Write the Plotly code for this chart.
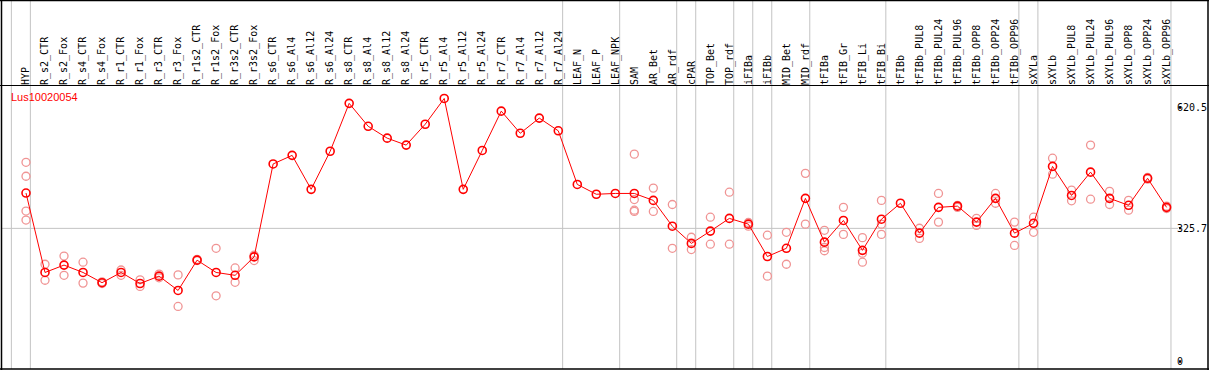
import plotly.graph_objects as go

categories = ["HYP", "R_s2_CTR", "R_s2_Fox", "R_s4_CTR", "R_s4_Fox", "R_r1_CTR", "R_r1_Fox",
              "R_r3_CTR", "R_r3_Fox", "R_r1s2_CTR", "R_r1s2_Fox", "R_r3s2_CTR", "R_r3s2_Fox",
              "R_s6_CTR", "R_s6_Al4", "R_s6_Al12", "R_s6_Al24", "R_s8_CTR", "R_s8_Al4",
              "R_s8_Al12", "R_s8_Al24", "R_r5_CTR", "R_r5_Al4", "R_r5_Al12", "R_r5_Al24",
              "R_r7_CTR", "R_r7_Al4", "R_r7_Al12", "R_r7_Al24", "LEAF_N", "LEAF_P", "LEAF_NPK",
              "SAM", "AR_Bet", "AR_rdf", "cPAR", "TOP_Bet", "TOP_rdf", "iFIBa", "iFIBb",
              "MID_Bet", "MID_rdf", "tFIBa", "tFIB_Gr", "tFIB_Li", "tFIB_Bi", "tFIBb",
              "tFIBb_PUL8", "tFIBb_PUL24", "tFIBb_PUL96", "tFIBb_OPP8", "tFIBb_OPP24",
              "tFIBb_OPP96", "sXYLa", "sXYLb", "sXYLb_PUL8", "sXYLb_PUL24", "sXYLb_PUL96",
              "sXYLb_OPP8", "sXYLb_OPP24", "sXYLb_OPP96"]

means = [412, 218, 236, 218, 193, 218, 191, 209, 174, 248, 218, 211, 256,
         483, 504, 421, 514, 631, 575, 546, 529, 580, 643, 421, 516, 612, 558, 595, 564,
         433, 409, 411, 411, 394, 331, 289, 319, 350, 336, 257, 277, 399, 292, 345, 272,
         348, 387, 314, 377, 380, 341, 399, 314, 338, 477, 406, 463, 399, 382, 448, 377]

replicates = [
    [487, 453, 368, 346], [238, 199], [258, 211], [243, 192], [195, 191], [224, 211],
    [200, 184], [214, 205], [212, 135], [250, 247], [277, 161], [229, 194], [260, 247],
    [], [], [], [], [], [], [], [], [], [], [], [], [], [], [], [],
    [], [], [],
    [507, 396, 370, 367], [424, 367], [384, 277], [304, 274], [353, 287], [414, 287],
    [340, 331], [309, 209], [316, 238], [460, 336], [321, 279, 271], [377, 311],
    [303, 265, 243], [394, 336, 311], [], [326, 301], [411, 341], [382, 377], [350, 333],
    [411, 387], [341, 284], [353, 316], [497, 458], [419, 393], [529, 397], [416, 384],
    [394, 370], [450, 446], [380, 374]]

group_ends = ["HYP", "R_r7_Al24", "LEAF_NPK", "AR_rdf", "cPAR", "TOP_rdf", "iFIBa", "iFIBb",
              "MID_rdf", "tFIB_Bi", "tFIBb_OPP96", "sXYLa", "sXYLb_OPP96"]

title = "Lus10020054"
ytick_vals = [0, 325.7, 620.5]
ytick_text = ["0", "325.7", "620.5"]
ref_line = 325.7

rep_x, rep_y = [], []
for i, reps in enumerate(replicates):
    for v in reps:
        rep_x.append(i)
        rep_y.append(v)

idx = list(range(len(categories)))

fig = go.Figure()
fig.add_trace(go.Scatter(x=rep_x, y=rep_y, mode="markers",
                         marker=dict(symbol="circle-open", size=8, color="#f09494",
                                     line=dict(width=1.3, color="#f09494")),
                         hoverinfo="skip", showlegend=False))
fig.add_trace(go.Scatter(x=idx, y=means, mode="lines+markers",
                         line=dict(color="#ff0000", width=1),
                         marker=dict(symbol="circle-open", size=8, color="#ff0000",
                                     line=dict(width=1.6, color="#ff0000")),
                         showlegend=False))

W, H = 1209, 370
ml, mr, mt, mb = 2, 33, 86, 1
pw = W - ml - mr
ph = H - mt - mb
step = 19.01
x0 = -(26 - ml) / step
x1 = x0 + pw / step

def px_x(p):
    return (p - ml) / pw

def px_y(p):
    return (H - mb - p) / ph

shapes = []
grey = "#c3c3c3"
sep_pos = [-1] + [categories.index(c) for c in group_ends]
for s in sep_pos:
    shapes.append(dict(type="line", xref="x", yref="paper", x0=s + 0.23, x1=s + 0.23,
                       y0=px_y(369), y1=px_y(0), line=dict(color=grey, width=1), layer="below"))
shapes.append(dict(type="line", xref="paper", yref="y", x0=px_x(1), x1=px_x(1178), y0=ref_line, y1=ref_line,
                   line=dict(color=grey, width=1), layer="below"))
# small tick marks at the right, next to the value labels
for v in ytick_vals:
    shapes.append(dict(type="line", xref="paper", yref="y", x0=px_x(1179), x1=px_x(1181), y0=v, y1=v,
                       line=dict(color="black", width=2)))
blk = dict(color="black", width=1.5)
shapes += [
    dict(type="line", xref="paper", yref="paper", x0=px_x(0), x1=px_x(W), y0=px_y(0.5), y1=px_y(0.5), line=blk),
    dict(type="line", xref="paper", yref="paper", x0=px_x(0), x1=px_x(W), y0=px_y(85.5), y1=px_y(85.5), line=dict(color="black", width=1)),
    dict(type="line", xref="paper", yref="paper", x0=px_x(0), x1=px_x(W), y0=px_y(369), y1=px_y(369), line=blk),
    dict(type="line", xref="paper", yref="paper", x0=px_x(1.5), x1=px_x(1.5), y0=px_y(0), y1=px_y(370), line=blk),
    dict(type="line", xref="paper", yref="paper", x0=px_x(1208), x1=px_x(1208), y0=px_y(0), y1=px_y(370), line=blk),
]

fig.update_layout(
    width=W, height=H, margin=dict(l=ml, r=mr, t=mt, b=mb, pad=0),
    paper_bgcolor="white", plot_bgcolor="white",
    shapes=shapes,
    xaxis=dict(range=[x0, x1], side="top", tickmode="array", tickvals=idx, ticktext=categories,
               tickangle=-90, tickfont=dict(family="DejaVu Sans Mono", size=10, color="black"),
               showgrid=False, zeroline=False, showline=False, ticks="", fixedrange=True,
               automargin=False),
    yaxis=dict(range=[-17.8, 673.4], side="right", tickmode="array", tickvals=ytick_vals,
               ticktext=ytick_text, ticks="", ticklabelstandoff=0,
               tickfont=dict(family="DejaVu Sans Mono", size=10, color="black"),
               showgrid=False, zeroline=False, showline=False, fixedrange=True,
               automargin=False),
    annotations=[dict(text=title, xref="paper", yref="paper", x=px_x(9), y=px_y(97),
                      xanchor="left", yanchor="middle", showarrow=False,
                      font=dict(family="Liberation Sans", size=11, color="#ff0000"))],
)

fig.write_html("out.html", config={"displayModeBar": False},
               post_script="document.body.style.margin='0';document.body.style.overflow='hidden';")
